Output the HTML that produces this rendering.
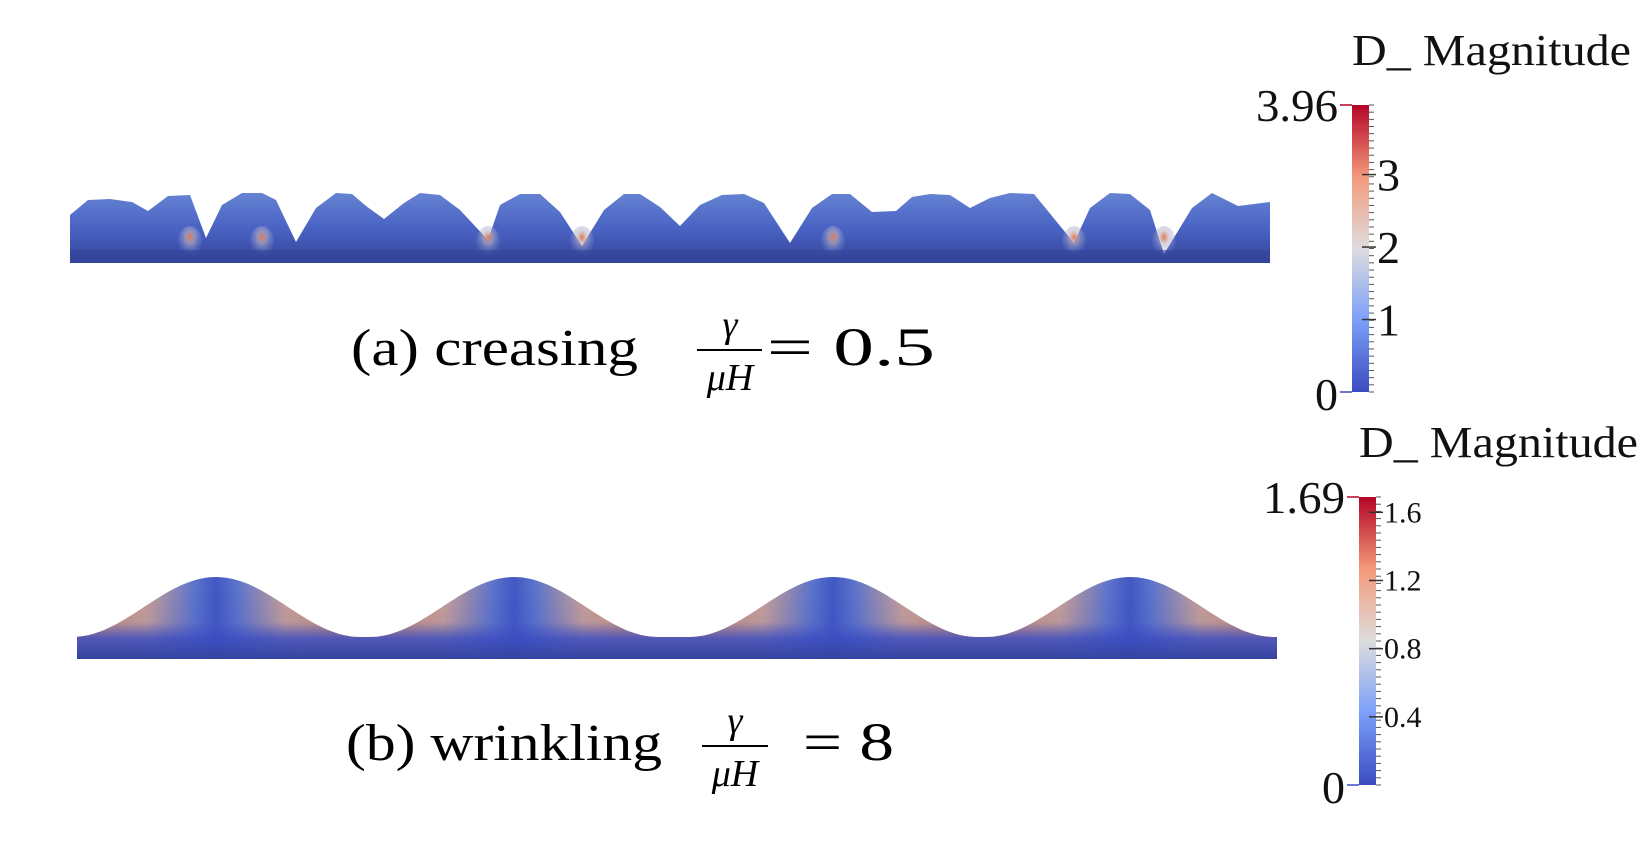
<!DOCTYPE html>
<html><head><meta charset="utf-8"><style>
html,body{margin:0;padding:0;background:#fff;width:1652px;height:843px;overflow:hidden}
svg{display:block}
.cap{font-family:"Liberation Serif",serif;fill:#000}
.lab{font-family:"Liberation Serif",serif;fill:#111}
</style></head><body>
<svg id="fig" width="1652" height="843" viewBox="0 0 1652 843">
<defs>
<linearGradient id="cmap" x1="0" y1="1" x2="0" y2="0">
<stop offset="0" stop-color="#3b4cc0"/><stop offset="0.25" stop-color="#7b9ff9"/>
<stop offset="0.5" stop-color="#dddddd"/><stop offset="0.75" stop-color="#f49a7b"/>
<stop offset="1" stop-color="#b40426"/></linearGradient>
<linearGradient id="topfill" x1="0" y1="0" x2="0" y2="1">
<stop offset="0" stop-color="#6583d2"/><stop offset="0.5" stop-color="#4a63c4"/><stop offset="1" stop-color="#34449a"/></linearGradient>
<linearGradient id="hgrad" x1="77" y1="0" x2="1277" y2="0" gradientUnits="userSpaceOnUse"></linearGradient>
<linearGradient id="vshade" x1="0" y1="577" x2="0" y2="659" gradientUnits="userSpaceOnUse">
<stop offset="0" stop-color="#3b4cc0" stop-opacity="0"/><stop offset="0.55" stop-color="#3b4cc0" stop-opacity="0.15"/>
<stop offset="0.75" stop-color="#3b4cc0" stop-opacity="0.85"/><stop offset="1" stop-color="#34449e" stop-opacity="1"/></linearGradient>
<radialGradient id="crease" cx="0.5" cy="0.35" r="0.6"><stop offset="0" stop-color="#e0784f"/><stop offset="0.35" stop-color="#c0b4c4" stop-opacity="0.6"/><stop offset="1" stop-color="#6d8ad6" stop-opacity="0"/></radialGradient>
</defs>
<g id="top-strip"></g>
<text class="cap" x="351" y="365" font-size="52" textLength="287" lengthAdjust="spacingAndGlyphs">(a) creasing</text>
<g>
<text class="cap" x="730" y="337" font-size="38" font-style="italic" text-anchor="middle">γ</text>
<line x1="697" y1="350" x2="762" y2="350" stroke="#000" stroke-width="2"/>
<text class="cap" x="730" y="390" font-size="38" font-style="italic" text-anchor="middle">μH</text>
<text class="cap" x="767" y="365" font-size="54" textLength="168" lengthAdjust="spacingAndGlyphs">= 0.5</text></g>
<g id="bot-strip"></g>
<text class="cap" x="346" y="760" font-size="52" textLength="316" lengthAdjust="spacingAndGlyphs">(b) wrinkling</text>
<g>
<text class="cap" x="735" y="733" font-size="38" font-style="italic" text-anchor="middle">γ</text>
<line x1="702" y1="746" x2="768" y2="746" stroke="#000" stroke-width="2"/>
<text class="cap" x="735" y="786" font-size="38" font-style="italic" text-anchor="middle">μH</text>
<text class="cap" x="803" y="760" font-size="54" textLength="91" lengthAdjust="spacingAndGlyphs">= 8</text></g>
<g id="cb1"></g>
<g id="cb2"></g>
</svg>
<script>
const NS='http://www.w3.org/2000/svg';
function mk(t,a,p){const e=document.createElementNS(NS,t);for(const k in a)e.setAttribute(k,a[k]);p.appendChild(e);return e;}
const topX=[70,88,110,132,148,168,190,206,222,242,262,276,296,316,336,352,366,384,404,420,440,460,488,500,520,540,560,582,604,624,640,660,680,700,722,744,764,790,812,832,850,872,896,912,930,950,970,990,1010,1034,1074,1090,1110,1130,1150,1164,1192,1212,1238,1270];
const topY=[215,200,199,202,211,196,195,238,205,193,193,200,242,208,193,194,206,219,203,193,195,210,240,205,194,194,212,246,210,194,194,207,226,205,195,194,203,243,208,194,194,212,211,197,194,195,208,198,193,194,243,208,193,194,210,254,208,193,206,202];
const creases=[190,262,488,582,833,1074,1164];
const gT=document.getElementById('top-strip');
let d='M70,263 ';topX.forEach((x,i)=>d+='L'+x+','+topY[i]+' ');d+='L1270,263 Z';
const tp=mk('path',{d:d,fill:'url(#topfill)'},gT);


creases.forEach(x=>{const e=mk('ellipse',{cx:x,cy:242,rx:12,ry:16,fill:'url(#crease)'},gT);

});
mk('rect',{x:70,y:250,width:1200,height:13,fill:'#34449a',opacity:0.6},gT);
const peaks=[216,514,833,1130];
const gB=document.getElementById('bot-strip');
let pts=[];for(let x=77;x<=1277;x+=4){let m=1e9;peaks.forEach(p=>{m=Math.min(m,Math.abs(x-p));});
const w=120;let h=m<w*1.2?(1+Math.cos(Math.PI*Math.min(m/(w*1.2),1)))/2:0;pts.push([x,637-60*h]);}
let d2='M77,659 L77,637 ';pts.forEach(p=>d2+='L'+p[0]+','+p[1].toFixed(1)+' ');d2+='L1277,637 L1277,659 Z';
const hg=document.getElementById('hgrad');
const stops=[];peaks.forEach(p=>{stops.push([p-130,'#d9906f'],[p-70,'#cfa494'],[p-20,'#5a73cc'],[p,'#4257c2'],[p+20,'#5a73cc'],[p+70,'#cfa494'],[p+130,'#d9906f']);});
stops.sort((a,b)=>a[0]-b[0]).forEach(s=>{mk('stop',{offset:Math.max(0,Math.min(1,(s[0]-77)/1200)),'stop-color':s[1]},hg);});
const bp=mk('path',{d:d2,fill:'url(#hgrad)'},gB);


mk('path',{d:d2,fill:'url(#vshade)'},gB);
function colorbar(g,x,y0,y1,vmax,ticks,tickLab,small,title,maxLab){
 mk('rect',{x:x,y:y0,width:17,height:y1-y0,fill:'url(#cmap)'},g);
 const t=mk('text',{x:x,y:y0-40,'font-size':44,class:'lab',textLength:279,lengthAdjust:'spacingAndGlyphs'},g);t.textContent=title;
 
 
 const sc=v=>y1-(y1-y0)*v/vmax;
 for(let i=0;i<=40;i++){const yy=y0+(y1-y0)*i/40;mk('line',{x1:x+17,x2:x+22,y1:yy,y2:yy,stroke:'#555','stroke-width':1},g);}
 ticks.forEach((v,i)=>{const yy=sc(v);mk('line',{x1:x+10,x2:x+24,y1:yy,y2:yy,stroke:'#333','stroke-width':1.5},g);
  const l=mk('text',{x:x+25,y:yy+(small?10:16),'font-size':small?30:46,class:'lab'},g);l.textContent=tickLab[i];
  
  });
 mk('line',{x1:x-12,x2:x,y1:y0,y2:y0,stroke:'#b40426','stroke-width':1.5},g);
 mk('line',{x1:x-12,x2:x,y1:y1,y2:y1,stroke:'#3b4cc0','stroke-width':1.5},g);
 const a=mk('text',{x:x-14,y:y0+16,'font-size':46,'text-anchor':'end',class:'lab',textLength:82,lengthAdjust:'spacingAndGlyphs'},g);a.textContent=maxLab;
 
 
 const b=mk('text',{x:x-14,y:y1+18,'font-size':46,'text-anchor':'end',class:'lab'},g);b.textContent='0';
 
 
}
const cb1Ticks=[3,2,1];const cb1Labels=['3','2','1'];
const cb2Ticks=[1.6,1.2,0.8,0.4];const cb2Labels=['1.6','1.2','0.8','0.4'];
colorbar(document.getElementById('cb1'),1352,105,392,3.96,cb1Ticks,cb1Labels,false,'D_ Magnitude','3.96');
colorbar(document.getElementById('cb2'),1359,497,785,1.69,cb2Ticks,cb2Labels,true,'D_ Magnitude','1.69');
</script>
</body></html>
